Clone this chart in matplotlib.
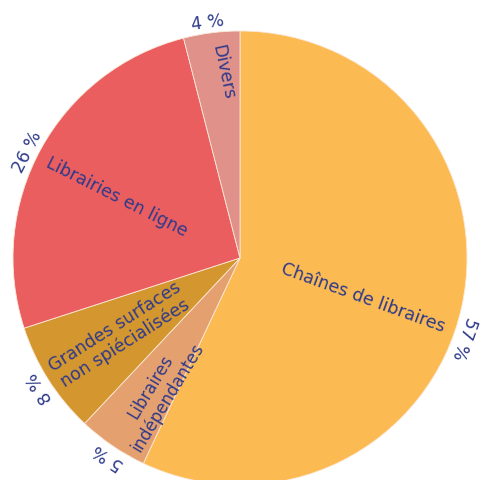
import numpy as np
import matplotlib
matplotlib.use("Agg")
import matplotlib.pyplot as plt

# Données
categories = ["Chaînes de libraires", "Libraires\nindépendantes",
              "Grandes surfaces\nnon spiécialisées", "Librairies en ligne", "Divers"]
valeurs = [57, 5, 8, 26, 4]
couleurs = ["#FBBA52", "#E5A06F", "#D4962E", "#EB5E60", "#E0918A"]

bleu = "#2E3A8A"
R = 227

fig = plt.figure(figsize=(4.81, 4.81), dpi=100)
ax = fig.add_axes([0, 0, 1, 1])

wedges, _ = ax.pie(valeurs, colors=couleurs, startangle=90, counterclock=False,
                   radius=R, center=(0, 0),
                   wedgeprops=dict(edgecolor="#FBE9D8", linewidth=0.6))

# pie() remet les limites : on les fixe après
ax.set_xlim(-240, 241)
ax.set_ylim(-222, 259)
ax.set_aspect("equal")
ax.axis("off")

# réglages des étiquettes (décalage angulaire, rayon, taille)
decal_txt = [-5, 3, 0, 2, -2]
rayon_txt = [129, 156, 142, 138, 188]
taille_txt = [12.5, 12, 12.5, 12.5, 12.5]
decal_pct = [-7, 0.5, 0.5, 2, 0.5]
rot_txt = [-20, None, None, None, -78]

for i, w in enumerate(wedges):
    mid = (w.theta1 + w.theta2) / 2.0
    a = np.deg2rad(mid + decal_txt[i])
    x, y = rayon_txt[i] * np.cos(a), rayon_txt[i] * np.sin(a)
    if rot_txt[i] is not None:
        rot = rot_txt[i]
    else:
        rot = mid + decal_txt[i] + 180
        if rot > 180:
            rot -= 360
    ax.text(x, y, categories[i], rotation=rot, rotation_mode="anchor",
            ha="center", va="center", color=bleu, fontsize=taille_txt[i],
            linespacing=1.1, family="DejaVu Sans")
    # pourcentage
    ap = mid + decal_pct[i]
    b = np.deg2rad(ap)
    rp = 238
    ax.text(rp * np.cos(b), rp * np.sin(b), "%d %%" % valeurs[i],
            rotation=ap - 90, rotation_mode="anchor",
            ha="center", va="center", color=bleu, fontsize=12.5,
            family="DejaVu Sans")

fig.savefig("out.png", dpi=100)
